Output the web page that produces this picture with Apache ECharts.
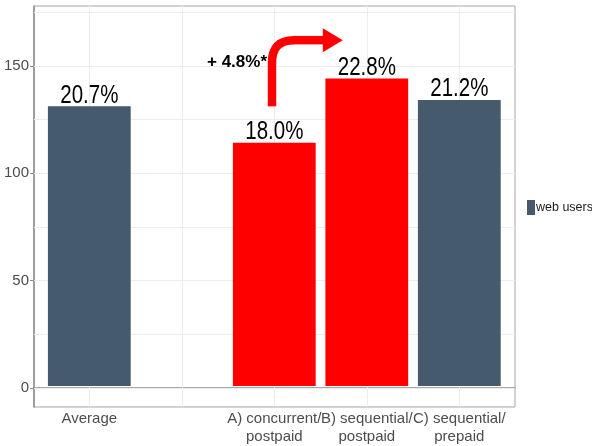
<!DOCTYPE html>
<html>
<head>
<meta charset="utf-8">
<script src="https://cdn.jsdelivr.net/npm/echarts@6/dist/echarts.min.js"></script>
<style>
  html, body { margin: 0; padding: 0; background: #fff; }
  #chart { width: 592px; height: 446px; }
</style>
</head>
<body>
<div id="chart"></div>
<script>
'use strict';

// data
var categories = ['Average', '', 'A) concurrent/\npostpaid', 'B) sequential/\npostpaid', 'C) sequential/\nprepaid'];
var values = [131, null, 114, 144, 134];
var pctLabels = ['20.7%', '', '18.0%', '22.8%', '21.2%'];
var redBars = ['A) concurrent/\npostpaid', 'B) sequential/\npostpaid'];
var yTicks = [0, 50, 100, 150];
var yMinor = [25, 75, 125, 175];
var arrowFrom = 131, arrowTop = 162, arrowText = '+ 4.8%*';

var font = '"Liberation Sans", Arial, sans-serif';
var slate = '#465a6e';
var yMin = -8.9, yMax = 178;

var chart = echarts.init(document.getElementById('chart'));

var barData = values.map(function(v, i) {
    return {
        value: v == null ? '-' : v,
        itemStyle: redBars.indexOf(categories[i]) >= 0 ? { color: '#ff0000' } : undefined
    };
});
var labelData = values.map(function(v, i) {
    return v == null ? [i, '-', ''] : [i, v, pctLabels[i]];
});

var gridLines = yTicks.concat(yMinor).map(function(v) { return { yAxis: v }; });
var vLines = categories.map(function(c) { return { xAxis: c }; });

var option = {
    animation: false,
    legend: {
        data: ['web users'],
        left: 527, top: 200, padding: 0,
        icon: 'rect', itemWidth: 8, itemHeight: 15,
        textStyle: { fontFamily: font, fontSize: 12.5, color: '#1a1a1a', padding: [0, 0, 0, -4] }
    },
    grid: [
        // bars: band width matches the ggplot spacing
        { left: 43.05, right: 86.45, top: 6, bottom: 39 },
        // the panel
        { left: 34, right: 77, top: 6, bottom: 39, show: true, borderColor: '#a6a6a6', borderWidth: 1 }
    ],
    xAxis: [{
        type: 'category', gridIndex: 0, data: categories,
        axisLine: { show: false },
        axisTick: { show: true, alignWithLabel: true, length: 4, lineStyle: { color: '#888' } },
        axisLabel: { fontFamily: font, fontSize: 15, color: '#4d4d4d', lineHeight: 18, margin: 5, interval: 0 },
        splitLine: { show: false }
    }, {
        type: 'value', gridIndex: 1, min: 0, max: 1,
        axisLine: { show: true, lineStyle: { color: '#8c8c8c', width: 1.5 } },
        axisTick: { show: false }, axisLabel: { show: false }, splitLine: { show: false }
    }],
    yAxis: [{
        type: 'value', gridIndex: 0, min: yMin, max: yMax,
        show: false, splitLine: { show: false }
    }, {
        type: 'value', gridIndex: 1, min: yMin, max: yMax,
        axisLine: { show: true, lineStyle: { color: '#8c8c8c', width: 1.5 } },
        axisTick: { show: true, length: 4, customValues: yTicks, lineStyle: { color: '#888' } },
        axisLabel: { customValues: yTicks, fontFamily: font, fontSize: 15, color: '#4d4d4d', margin: 5 },
        splitLine: { show: false }
    }],
    series: [{
        type: 'line', xAxisIndex: 1, yAxisIndex: 1, data: [], silent: true, z: 1,
        markLine: {
            silent: true, symbol: 'none', label: { show: false }, z: 1,
            lineStyle: { color: '#ececec', width: 1, type: 'solid' },
            data: gridLines
        }
    }, {
        type: 'line', xAxisIndex: 0, yAxisIndex: 0, data: [], silent: true, z: 1,
        markLine: {
            silent: true, symbol: 'none', label: { show: false }, z: 1,
            lineStyle: { color: '#ececec', width: 1, type: 'solid' },
            data: vLines
        }
    }, {
        name: 'web users', type: 'bar', xAxisIndex: 0, yAxisIndex: 0,
        barWidth: '89.5%',
        itemStyle: { color: slate },
        data: barData,
        z: 3
    }, {
        // percentage labels, drawn a little condensed like the original
        type: 'custom', xAxisIndex: 0, yAxisIndex: 0, silent: true, z: 4,
        data: labelData,
        renderItem: function(params, api) {
            var p = api.coord([api.value(0), api.value(1)]);
            return {
                type: 'text', x: p[0], y: p[1] + 2, scaleX: 0.82,
                style: {
                    text: labelData[params.dataIndex][2], fill: '#000',
                    align: 'center', verticalAlign: 'bottom',
                    font: '25px "Liberation Sans", Arial, sans-serif'
                }
            };
        }
    }]
};
chart.setOption(option);

// curved arrow and annotation, anchored to the A and B bars
var pA = chart.convertToPixel({ gridIndex: 0 }, [categories[2], arrowFrom]);
var pB = chart.convertToPixel({ gridIndex: 0 }, [categories[3], arrowTop]);
var x0 = pA[0] - 2.3, y0 = pA[1], yT = pB[1], r = 22;
var headBase = pB[0] - 44, tip = pB[0] - 24;
var red = { stroke: '#ff0000', lineWidth: 8.5, fill: null };
chart.setOption({
    graphic: [{
        type: 'line', z: 10,
        shape: { x1: x0, y1: y0, x2: x0, y2: yT + r - 0.5 },
        style: red
    }, {
        type: 'bezierCurve', z: 10,
        shape: { x1: x0, y1: yT + r, cpx1: x0, cpy1: yT, x2: x0 + r, y2: yT },
        style: red
    }, {
        type: 'line', z: 10,
        shape: { x1: x0 + r - 0.5, y1: yT, x2: headBase + 1, y2: yT },
        style: red
    }, {
        type: 'polygon', z: 10,
        shape: { points: [[headBase, yT - 12], [tip, yT], [headBase, yT + 12]] },
        style: { fill: '#ff0000' }
    }, {
        type: 'text', z: 10,
        x: x0 - 5, y: chart.convertToPixel({ gridIndex: 0 }, [categories[2], 151.5])[1],
        style: {
            text: arrowText, fill: '#000', align: 'right', verticalAlign: 'middle',
            font: 'bold 17px "Liberation Sans", Arial, sans-serif'
        }
    }]
});
</script>
</body>
</html>
